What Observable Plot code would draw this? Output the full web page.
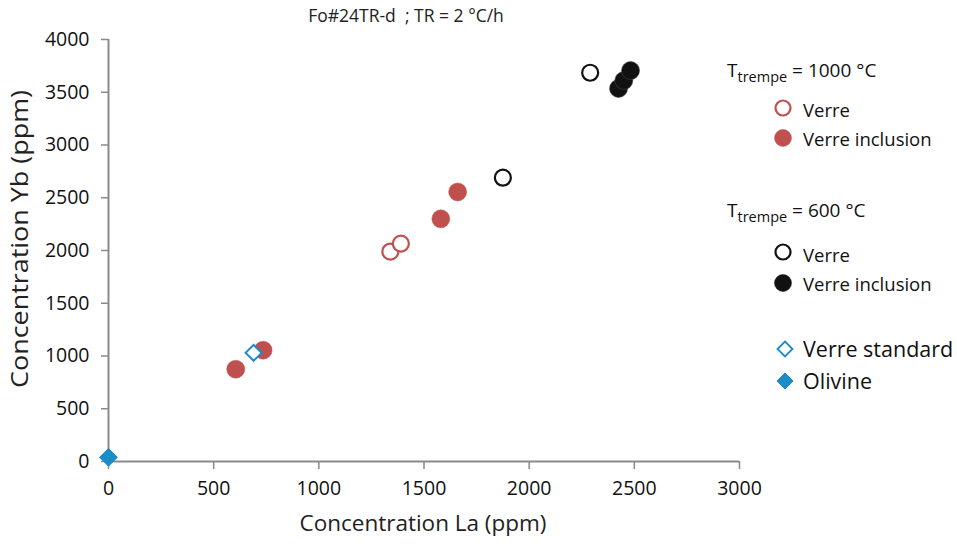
<!DOCTYPE html>
<html><head><meta charset="utf-8">
<script src="https://cdn.jsdelivr.net/npm/d3@7"></script>
<script src="https://cdn.jsdelivr.net/npm/@observablehq/plot@0.6"></script>
<style>
body{margin:0;background:#fff;font-family:"Open Sans",sans-serif;}
#wrap{position:relative;width:957px;height:547px;overflow:hidden;background:#fff}
#wrap svg{position:absolute;left:0;top:0}
</style></head><body><div id="wrap"></div>
<script>
// ---- data ----
const redOpenLa = [1340, 1390];
const redOpenYb = [1990, 2065];
const redFillLa = [605, 735, 1580, 1660];
const redFillYb = [875, 1055, 2300, 2555];
const blackOpenLa = [1875, 2290];
const blackOpenYb = [2690, 3685];
const blackFillLa = [2425, 2450, 2482];
const blackFillYb = [3536, 3611, 3706];
const stdLa = [690];
const stdYb = [1030];
const olivLa = [0];
const olivYb = [40];
const xTicks = [0, 500, 1000, 1500, 2000, 2500, 3000];
const yTicks = [0, 500, 1000, 1500, 2000, 2500, 3000, 3500, 4000];
const titleText = "Fo#24TR-d\u00a0\u00a0; TR = 2 °C/h";
const xLabel = "Concentration La (ppm)";
const yLabel = "Concentration Yb (ppm)";
const groupTitles = ["1000 °C", "600 °C"];
const legendLabels = ["Verre", "Verre inclusion", "Verre", "Verre inclusion", "Verre standard", "Olivine"];

const RED = "#c0504d", BLACK = "#111", BLUE = "#1a8cc8", GRAY = "#8a8a8a";
const pts = (xs, ys) => xs.map((x, i) => ({La: x, Yb: ys[i]}));

const plot = Plot.plot({
  width: 957, height: 547,
  marginLeft: 108, marginRight: 218, marginTop: 39, marginBottom: 86,
  x: {domain: [0, 3000]},
  y: {domain: [0, 4000]},
  style: {fontFamily: "Open Sans", background: "transparent", color: "#111"},
  marks: [
    Plot.axisY({ticks: yTicks, tickSize: 7, tickPadding: 12, stroke: GRAY, strokeWidth: 1.5, fill: "#111", fontSize: 19.5, label: null, tickFormat: d => String(d)}),
    Plot.axisX({ticks: xTicks, tickSize: 8, tickPadding: 12, stroke: GRAY, strokeWidth: 1.5, fill: "#111", fontSize: 19.5, label: null, tickFormat: d => String(d)}),
    Plot.ruleX([0], {stroke: GRAY, strokeWidth: 2}),
    Plot.ruleY([0], {stroke: GRAY, strokeWidth: 2}),
    Plot.dot(pts(redFillLa, redFillYb), {x: "La", y: "Yb", r: 9, fill: RED, stroke: RED, strokeWidth: 0.5}),
    Plot.dot(pts(redOpenLa, redOpenYb), {x: "La", y: "Yb", r: 8, fill: "white", stroke: RED, strokeWidth: 2.2}),
    Plot.dot(pts(blackOpenLa, blackOpenYb), {x: "La", y: "Yb", r: 8, fill: "white", stroke: BLACK, strokeWidth: 2.2}),
    Plot.dot(pts(blackFillLa, blackFillYb), {x: "La", y: "Yb", r: 9, fill: BLACK, stroke: "#444", strokeWidth: 0.6}),
    Plot.dot(pts(stdLa, stdYb), {x: "La", y: "Yb", symbol: "diamond2", r: 7.2, fill: "white", stroke: BLUE, strokeWidth: 2}),
    Plot.dot(pts(olivLa, olivYb), {x: "La", y: "Yb", symbol: "diamond2", r: 8, fill: BLUE, stroke: BLUE, strokeWidth: 1})
  ]
});
const wrap = document.getElementById("wrap");
wrap.appendChild(plot);

// ---- overlay: title, axis labels, legend ----
const svg = d3.select(wrap).append("svg").attr("width", 957).attr("height", 547)
  .style("font-family", "'Open Sans', sans-serif").attr("fill", "#111");

svg.append("text").attr("x", 406).attr("y", 22).attr("text-anchor", "middle")
  .attr("font-size", 17.5).attr("fill", "#222").text(titleText);
svg.append("text").attr("x", 423).attr("y", 531).attr("text-anchor", "middle")
  .attr("font-size", 22.5).attr("fill", "#222").text(xLabel);
svg.append("text").attr("transform", "translate(28,239) rotate(-90)").attr("text-anchor", "middle")
  .attr("font-size", 24.5).attr("textLength", 298).attr("lengthAdjust", "spacingAndGlyphs")
  .attr("fill", "#222").text(yLabel);

// group headers
const headerY = [77, 217];
groupTitles.forEach((g, i) => {
  const t = svg.append("text").attr("x", 727).attr("y", headerY[i]).attr("font-size", 19);
  t.append("tspan").text("T");
  t.append("tspan").attr("font-size", 14.5).attr("dy", 5).text("trempe");
  t.append("tspan").attr("dy", -5).text(" = " + g);
});

const items = [
  {y: 117, cy: 108, kind: "circle", fill: "white", stroke: RED, fs: 18.5},
  {y: 146, cy: 138, kind: "circle", fill: RED, stroke: RED, fs: 18.5},
  {y: 262, cy: 252, kind: "circle", fill: "white", stroke: BLACK, fs: 18.5},
  {y: 291, cy: 283, kind: "circle", fill: BLACK, stroke: BLACK, fs: 18.5},
  {y: 357, cy: 349, kind: "diamond", fill: "white", stroke: BLUE, fs: 21.5},
  {y: 389, cy: 381, kind: "diamond", fill: BLUE, stroke: BLUE, fs: 21.5}
];
items.forEach((it, i) => {
  if (it.kind === "circle") {
    svg.append("circle").attr("cx", 783).attr("cy", it.cy).attr("r", it.fill === "white" ? 7.5 : 8.5)
      .attr("fill", it.fill).attr("stroke", it.stroke).attr("stroke-width", it.fill === "white" ? 2.2 : 0.5);
  } else {
    const s = it.fill === "white" ? 7.5 : 8;
    svg.append("path").attr("d", `M${785},${it.cy - s}L${785 + s},${it.cy}L${785},${it.cy + s}L${785 - s},${it.cy}Z`)
      .attr("fill", it.fill).attr("stroke", it.stroke).attr("stroke-width", it.fill === "white" ? 1.8 : 1);
  }
  svg.append("text").attr("x", 803).attr("y", it.y).attr("font-size", it.fs).text(legendLabels[i]);
});
</script></body></html>
